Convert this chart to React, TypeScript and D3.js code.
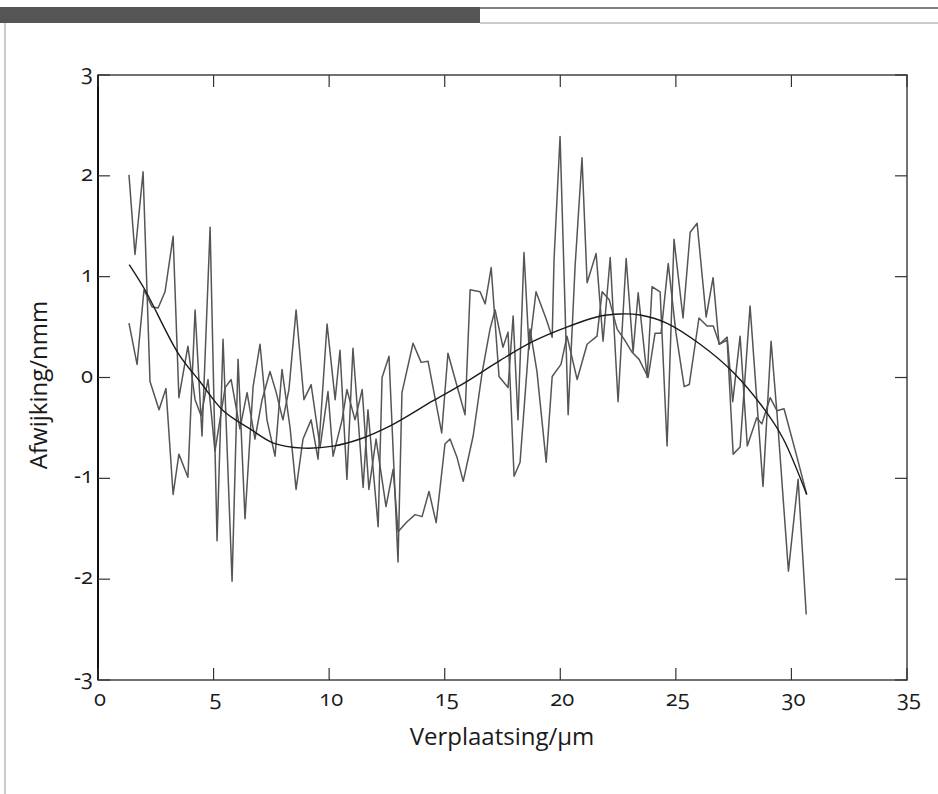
import React from "react";
import * as d3 from "d3";

const xTicks = [0, 5, 10, 15, 20, 25, 30, 35];
const yTicks = [-3, -2, -1, 0, 1, 2, 3];
const xTitle = "Verplaatsing/\u00b5m";
const yTitle = "Afwijking/nmm";

const seriesA: [number, number][] = [
  [1.34, 2.01], [1.6, 1.22], [1.95, 2.04], [2.25, -0.04], [2.64, -0.32], [2.94, -0.11], [3.25, -1.16], [3.5, -0.76],
  [3.89, -0.99], [4.2, 0.67], [4.5, -0.58], [4.85, 1.49], [5.15, -1.62], [5.41, 0.38], [5.8, -2.02], [6.06, 0.18],
  [6.36, -1.4], [6.71, -0.09], [7.01, 0.33], [7.31, -0.42], [7.66, -0.78], [7.96, 0.08], [8.31, -0.5], [8.57, -1.11],
  [8.87, -0.61], [9.22, -0.42], [9.52, -0.81], [9.91, 0.53], [10.26, -0.22], [10.47, 0.27], [10.77, -1.01], [11.03, 0.29],
  [11.47, -1.09], [11.68, -0.32], [12.12, -1.48], [12.29, 0.0], [12.59, 0.21], [12.98, -1.83], [13.15, -0.15], [13.63, 0.34],
  [13.98, 0.15], [14.28, 0.16], [14.87, -0.55], [15.14, 0.24], [15.49, -0.05], [15.88, -0.37], [16.1, 0.87], [16.53, 0.85],
  [16.75, 0.73], [17.01, 1.09], [17.35, 0.01], [17.74, -0.1], [17.96, 0.61], [18.17, -0.42], [18.43, 1.24], [18.65, 0.28],
  [18.95, 0.85], [19.39, 0.58], [19.65, 0.4], [19.73, 1.17], [19.99, 2.39], [20.34, -0.37], [20.64, 1.1], [20.94, 2.18],
  [21.16, 0.94], [21.55, 1.23], [21.85, 0.36], [22.16, 1.19], [22.5, -0.24], [22.85, 1.18], [23.15, 0.25], [23.37, 0.84],
  [23.76, 0.0], [23.97, 0.9], [24.32, 0.85], [24.62, -0.68], [24.92, 1.37], [25.31, 0.59], [25.62, 1.44], [25.92, 1.53],
  [26.31, 0.6], [26.61, 0.99], [26.87, 0.33], [27.22, 0.37], [27.48, -0.76], [27.78, -0.69], [28.21, 0.71], [28.77, -1.08],
  [29.12, 0.36], [29.38, -0.37], [29.87, -1.92], [30.29, -1.01], [30.64, -2.35],
];

const seriesB: [number, number][] = [
  [1.34, 0.54], [1.69, 0.13], [1.99, 0.87], [2.34, 0.7], [2.6, 0.69], [2.9, 0.85], [3.25, 1.4], [3.5, -0.2],
  [3.89, 0.31], [4.2, -0.22], [4.46, -0.38], [4.76, -0.02], [5.06, -0.73], [5.5, -0.1], [5.76, -0.02], [6.14, -0.51],
  [6.45, -0.15], [6.79, -0.61], [7.1, -0.22], [7.44, 0.06], [7.7, -0.14], [8.0, -0.42], [8.26, -0.12], [8.57, 0.67],
  [8.91, -0.22], [9.22, -0.07], [9.61, -0.69], [9.95, -0.14], [10.17, -0.78], [10.56, -0.42], [10.77, -0.12], [11.12, -0.42],
  [11.43, -0.12], [11.72, -1.11], [12.03, -0.61], [12.46, -1.28], [12.77, -0.91], [12.98, -1.53], [13.37, -1.43], [13.72, -1.36],
  [14.02, -1.38], [14.32, -1.13], [14.63, -1.44], [15.01, -0.66], [15.23, -0.61], [15.53, -0.79], [15.8, -1.03], [16.23, -0.58],
  [16.62, 0.05], [16.96, 0.48], [17.18, 0.67], [17.52, 0.3], [17.74, 0.45], [18.0, -0.98], [18.26, -0.84], [18.69, 0.48],
  [18.99, 0.06], [19.39, -0.84], [19.65, 0.01], [20.03, 0.13], [20.29, 0.41], [20.73, -0.02], [21.16, 0.33], [21.59, 0.41],
  [21.81, 0.85], [22.12, 0.77], [22.46, 0.48], [22.76, 0.38], [23.11, 0.25], [23.41, 0.18], [23.8, 0.0], [24.1, 0.44],
  [24.36, 0.44], [24.67, 1.13], [25.0, 0.45], [25.36, -0.09], [25.58, -0.07], [26.0, 0.59], [26.35, 0.51], [26.62, 0.51],
  [26.89, 0.33], [27.22, 0.4], [27.46, -0.24], [27.78, 0.41], [28.09, -0.68], [28.5, -0.4], [28.72, -0.46], [29.08, -0.2],
  [29.38, -0.33], [29.68, -0.31], [30.23, -0.78], [30.66, -1.16],
];

const fitCurve: [number, number][] = [
  [1.35, 1.12], [2.03, 0.87], [3.47, 0.24], [4.41, -0.04], [5.42, -0.33], [6.58, -0.51], [7.59, -0.65], [8.88, -0.7],
  [10.18, -0.68], [11.34, -0.61], [12.64, -0.48], [14.5, -0.23], [15.95, -0.04], [17.4, 0.17], [18.84, 0.36], [20.28, 0.5],
  [21.75, 0.61], [22.59, 0.63], [23.45, 0.62], [24.6, 0.54], [26.05, 0.33], [27.49, 0.05], [28.94, -0.35], [29.65, -0.61],
  [30.66, -1.16],
];

export default function App() {
  const W = 938;
  const H = 794;
  const left = 98, right = 907, top = 75, bottom = 680;
  const x = d3.scaleLinear().domain([0, 35]).range([left, right]);
  const y = d3.scaleLinear().domain([-3, 3]).range([bottom, top]);
  const line = d3.line<[number, number]>().x((d) => x(d[0])).y((d) => y(d[1]));
  const smooth = d3
    .line<[number, number]>()
    .x((d) => x(d[0]))
    .y((d) => y(d[1]))
    .curve(d3.curveCatmullRom.alpha(0.5));
  const tick = 12;
  const font = "'Open Sans', 'Lato', sans-serif";
  const fmt = (v: number) => (v < 0 ? "-" + Math.abs(v) : String(v));
  const numStyle = { fontVariantNumeric: "oldstyle-nums" } as React.CSSProperties;

  return (
    <svg
      width={W}
      height={H}
      viewBox={`0 0 ${W} ${H}`}
      style={{ position: "absolute", left: 0, top: 0, background: "#fff" }}
    >
      {/* decorative page band */}
      <rect x={0} y={7} width={480} height={16} fill="#555" />
      <line x1={480} x2={938} y1={8} y2={8} stroke="#555" strokeWidth={1.5} />
      <line x1={480} x2={938} y1={23} y2={23} stroke="#999" strokeWidth={1} />
      <line x1={5} x2={5} y1={23} y2={794} stroke="#999" strokeWidth={1} />

      {/* frame */}
      <rect x={left} y={top} width={right - left} height={bottom - top} fill="none" stroke="#444" strokeWidth={1.5} />
      <line x1={left} x2={left} y1={top} y2={bottom} stroke="#111" strokeWidth={2} />

      {/* ticks */}
      {xTicks.map((t) => (
        <g key={"xt" + t}>
          <line x1={x(t)} x2={x(t)} y1={bottom} y2={bottom - tick} stroke="#333" strokeWidth={1.2} />
          <line x1={x(t)} x2={x(t)} y1={top} y2={top + tick} stroke="#333" strokeWidth={1.2} />
          <text
            x={x(t) + 2}
            y={bottom + 26}
            textAnchor="middle"
            fontFamily={font}
            fontSize={22}
            fill="#1a1a1a"
            style={numStyle}
          >
            {fmt(t)}
          </text>
        </g>
      ))}
      {yTicks.map((t) => (
        <g key={"yt" + t}>
          <line x1={left} x2={left + tick} y1={y(t)} y2={y(t)} stroke="#333" strokeWidth={1.2} />
          <line x1={right} x2={right - tick} y1={y(t)} y2={y(t)} stroke="#333" strokeWidth={1.2} />
          <text
            x={left - 5}
            y={y(t) + 5}
            textAnchor="end"
            fontFamily={font}
            fontSize={22}
            fill="#1a1a1a"
            style={numStyle}
          >
            {fmt(t)}
          </text>
        </g>
      ))}

      {/* data */}
      <path d={line(seriesA) || ""} fill="none" stroke="#555" strokeWidth={1.5} strokeLinejoin="round" />
      <path d={line(seriesB) || ""} fill="none" stroke="#555" strokeWidth={1.5} strokeLinejoin="round" />
      <path d={smooth(fitCurve) || ""} fill="none" stroke="#1a1a1a" strokeWidth={1.4} />

      {/* titles */}
      <text x={502} y={745} textAnchor="middle" fontFamily={font} fontSize={24} fill="#1a1a1a">
        {xTitle}
      </text>
      <text
        transform={`translate(47, 385) rotate(-90)`}
        textAnchor="middle"
        fontFamily={font}
        fontSize={24}
        fill="#1a1a1a"
      >
        {yTitle}
      </text>
    </svg>
  );
}
